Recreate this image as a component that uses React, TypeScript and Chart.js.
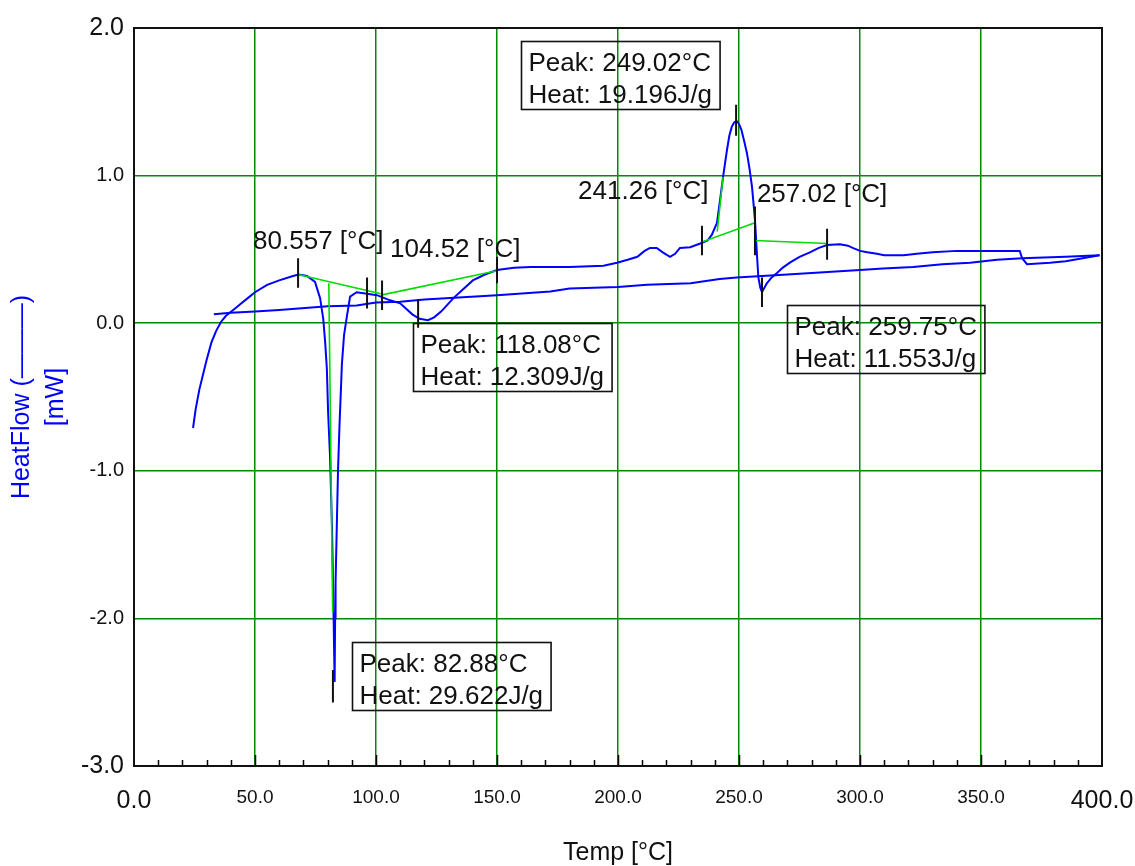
import React, { useEffect, useRef } from "react";
import { Chart, registerables } from "chart.js";

Chart.register(...registerables);

const FONT = "'Liberation Sans', Arial, Helvetica, sans-serif";

// Axis ranges / ticks
const xMin = 0;
const xMax = 400;
const xStep = 50;
const xMinorStep = 10;
const yMin = -3;
const yMax = 2;
const yStep = 1;

// Main DSC heating curve (Temp °C, HeatFlow mW)
const mainT = [24.4, 25.5, 27, 28.5, 30, 32, 34, 36, 38, 41, 44, 47, 50, 55, 60, 65.7, 68, 71.5, 74.8, 76.9, 78.2, 79, 79.7, 80.2, 81.0, 81.8, 82.3, 82.9, 83.1, 83.3, 83.9, 84.3, 84.9, 85.5, 85.9, 86.8, 88, 89.3, 92, 96.3, 100.4, 105.8, 110, 115, 118, 121.5, 124, 127, 132, 136, 140, 145, 150, 157, 164, 172, 180, 194, 199.6, 204, 208, 211, 213.2, 216, 218.5, 221.5, 223.6, 225.6, 229.8, 234, 237, 238.8, 240.9, 242.3, 243.4, 245, 246, 247, 248, 249, 250, 251, 252.2, 253.3, 254.4, 255.4, 256.6, 257.4, 258, 258.8, 259.5, 260.5, 261.5, 263.5, 265.7, 268, 271, 275, 279.3, 283, 286.4, 291.7, 295, 297, 300, 303, 307, 310, 313.6, 318, 323.5, 330, 340, 350, 360, 366, 367, 369, 378.5, 385, 392, 399];
const mainY = [-0.71, -0.58, -0.45, -0.35, -0.25, -0.13, -0.05, 0.01, 0.05, 0.09, 0.13, 0.17, 0.21, 0.26, 0.29, 0.32, 0.33, 0.32, 0.28, 0.17, 0.03, -0.13, -0.31, -0.6, -0.9, -1.37, -1.8, -2.43, -2.0, -1.75, -1.3, -1.0, -0.7, -0.45, -0.28, -0.08, 0.05, 0.18, 0.21, 0.20, 0.19, 0.155, 0.135, 0.06, 0.03, 0.02, 0.04, 0.08, 0.17, 0.23, 0.29, 0.33, 0.36, 0.375, 0.38, 0.38, 0.38, 0.39, 0.41, 0.43, 0.45, 0.49, 0.51, 0.51, 0.48, 0.45, 0.47, 0.51, 0.515, 0.54, 0.56, 0.60, 0.68, 0.85, 0.99, 1.17, 1.27, 1.33, 1.36, 1.37, 1.35, 1.31, 1.23, 1.15, 1.04, 0.92, 0.70, 0.47, 0.31, 0.24, 0.21, 0.24, 0.27, 0.31, 0.34, 0.375, 0.41, 0.45, 0.48, 0.51, 0.53, 0.535, 0.525, 0.51, 0.49, 0.48, 0.47, 0.46, 0.46, 0.46, 0.47, 0.48, 0.49, 0.49, 0.49, 0.49, 0.44, 0.40, 0.41, 0.42, 0.44, 0.46];

// Second (lower) blue curve
const baseT = [33, 40, 50, 60, 68, 80, 92, 100, 110, 120, 150, 172, 180, 200, 212, 230, 242, 249, 270, 300, 309.5, 322, 334, 345.5, 356.6, 367, 385, 399];
const baseY = [0.06, 0.07, 0.08, 0.09, 0.10, 0.115, 0.12, 0.14, 0.145, 0.16, 0.19, 0.215, 0.235, 0.245, 0.26, 0.27, 0.30, 0.31, 0.33, 0.36, 0.37, 0.38, 0.40, 0.41, 0.43, 0.44, 0.45, 0.46];

// Green integration baselines (start/end temps and values)
const greenT = [[67.8, 102], [80.5, 82.1], [102, 150], [234.7, 256.6], [241.0, 243.4], [256.6, 286.4]];
const greenY = [[0.33, 0.20], [0.27, -1.96], [0.19, 0.355], [0.55, 0.68], [0.62, 0.99], [0.56, 0.54]];

// Black vertical markers
const markT = [67.8, 82.2, 96.3, 102.5, 117.4, 150, 234.7, 248.8, 256.6, 259.5, 286.4];
const markHi = [0.44, -2.35, 0.31, 0.29, 0.16, 0.45, 0.66, 1.48, 0.79, 0.31, 0.64];
const markLo = [0.24, -2.57, 0.10, 0.09, -0.03, 0.27, 0.46, 1.27, 0.46, 0.11, 0.43];

// Temperature labels
const tempLabels = ["80.557 [°C]", "104.52 [°C]", "241.26 [°C]", "257.02 [°C]"];
const tempLabelT = [49.2, 105.8, 183.5, 257.4];
const tempLabelY = [0.55, 0.495, 0.89, 0.87];

// Peak boxes
const peakTexts = ["Peak: 249.02°C", "Peak: 118.08°C", "Peak: 259.75°C", "Peak: 82.88°C"];
const heatTexts = ["Heat: 19.196J/g", "Heat: 12.309J/g", "Heat: 11.553J/g", "Heat: 29.622J/g"];
const boxT = [159.9, 115.3, 269.8, 90.1];
const boxY = [1.91, 0.0, 0.12, -2.16];

const toPts = (xs: number[], ys: number[]) => xs.map((x, i) => ({ x, y: ys[i] }));

const overlayPlugin = {
  id: "overlay",
  afterDraw(chart: any) {
    const { ctx, chartArea: a } = chart;
    const xs = chart.scales.x;
    const ys = chart.scales.y;
    ctx.save();
    // inner ticks on bottom axis
    ctx.strokeStyle = "#000";
    ctx.lineWidth = 1.5;
    const n = Math.round((xMax - xMin) / xMinorStep);
    for (let i = 1; i < n; i++) {
      const v = xMin + i * xMinorStep;
      const px = Math.round(xs.getPixelForValue(v)) + 0.5;
      const len = v % xStep === 0 ? 11 : 6;
      ctx.beginPath();
      ctx.moveTo(px, a.bottom);
      ctx.lineTo(px, a.bottom - len);
      ctx.stroke();
    }
    // frame
    ctx.lineWidth = 2;
    ctx.strokeStyle = "#111";
    ctx.strokeRect(a.left, a.top, a.right - a.left, a.bottom - a.top);

    // temperature labels
    ctx.font = `26px ${FONT}`;
    ctx.fillStyle = "#111";
    ctx.textAlign = "left";
    ctx.textBaseline = "middle";
    tempLabels.forEach((s, i) => {
      ctx.fillText(s, xs.getPixelForValue(tempLabelT[i]), ys.getPixelForValue(tempLabelY[i]));
    });

    // peak boxes
    ctx.textBaseline = "alphabetic";
    peakTexts.forEach((p, i) => {
      const h = heatTexts[i];
      const left = Math.round(xs.getPixelForValue(boxT[i])) + 0.5;
      const top = Math.round(ys.getPixelForValue(boxY[i])) + 0.5;
      const w = Math.max(ctx.measureText(p).width, ctx.measureText(h).width) + 15;
      ctx.lineWidth = 1.6;
      ctx.strokeStyle = "#111";
      ctx.strokeRect(left, top, w, 68);
      ctx.fillText(p, left + 7, top + 29);
      ctx.fillText(h, left + 7, top + 61);
    });
    ctx.restore();
  },
};

export default function App() {
  const ref = useRef<HTMLCanvasElement | null>(null);

  useEffect(() => {
    if (!ref.current) return;
    const datasets: any[] = [];
    markT.forEach((t, i) => {
      datasets.push({
        data: [{ x: t, y: markHi[i] }, { x: t, y: markLo[i] }],
        borderColor: "#111",
        borderWidth: 2,
        showLine: true,
        pointRadius: 0,
      });
    });
    greenT.forEach((seg, i) => {
      datasets.push({
        data: toPts(seg, greenY[i]),
        borderColor: "#00dd00",
        borderWidth: 1.6,
        showLine: true,
        pointRadius: 0,
      });
    });
    datasets.push({
      data: toPts(mainT, mainY),
      borderColor: "#0000ff",
      borderWidth: 2,
      showLine: true,
      pointRadius: 0,
      tension: 0,
    });
    datasets.push({
      data: toPts(baseT, baseY),
      borderColor: "#0000ff",
      borderWidth: 2,
      showLine: true,
      pointRadius: 0,
      tension: 0,
    });

    const chart = new Chart(ref.current, {
      type: "scatter",
      data: { datasets },
      plugins: [overlayPlugin],
      options: {
        responsive: false,
        animation: false,
        devicePixelRatio: 1,
        layout: { padding: { top: 28, right: 33, left: 0, bottom: 0 } },
        plugins: { legend: { display: false }, tooltip: { enabled: false } },
        scales: {
          x: {
            type: "linear",
            min: xMin,
            max: xMax,
            afterFit: (s: any) => {
              s.height = 100;
              s.paddingRight = 0;
              s.paddingLeft = 0;
            },
            border: { display: false },
            grid: { color: "#008a00", lineWidth: 1.5, drawTicks: false },
            ticks: {
              stepSize: xStep,
              autoSkip: false,
              maxRotation: 0,
              minRotation: 0,
              padding: 20,
              color: "#111",
              font: (c: any) => ({
                family: FONT,
                size: c.tick && (c.tick.value === xMin || c.tick.value === xMax) ? 25 : 19,
              }),
              callback: (v: any) => Number(v).toFixed(1),
            },
            title: {
              display: true,
              text: "Temp [°C]",
              color: "#111",
              font: { family: FONT, size: 25, lineHeight: 1 },
              padding: { top: 0, bottom: 0 },
            },
          },
          y: {
            type: "linear",
            min: yMin,
            max: yMax,
            afterFit: (s: any) => {
              s.width = 134;
              s.paddingTop = 0;
              s.paddingBottom = 0;
            },
            border: { display: false },
            grid: { color: "#008a00", lineWidth: 1.5, drawTicks: false },
            ticks: {
              stepSize: yStep,
              autoSkip: false,
              padding: 10,
              color: "#111",
              font: (c: any) => ({
                family: FONT,
                size: c.tick && (c.tick.value === yMin || c.tick.value === yMax) ? 25 : 20,
              }),
              callback: (v: any) => Number(v).toFixed(1),
            },
            title: {
              display: true,
              text: ["HeatFlow (———)", "[mW]"],
              color: "#0000ff",
              font: { family: FONT, size: 25, lineHeight: 1.36 },
              padding: { top: 5, bottom: 0 },
            },
          },
        },
      },
    });
    return () => chart.destroy();
  }, []);

  return (
    <div style={{ position: "absolute", left: 0, top: 0, width: 1135, height: 866, background: "#fff" }}>
      <canvas ref={ref} width={1135} height={866} style={{ width: 1135, height: 866 }} />
    </div>
  );
}
